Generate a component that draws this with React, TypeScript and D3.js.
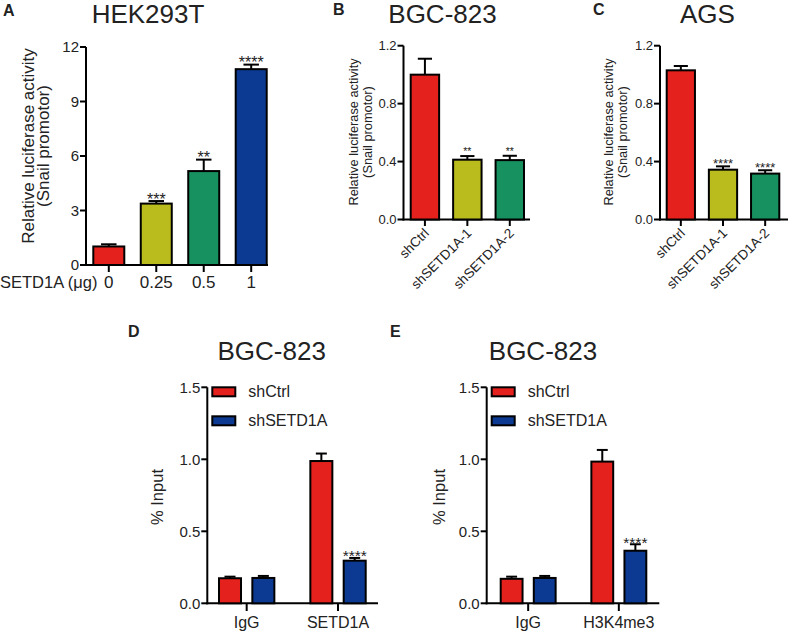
import React, { useEffect, useRef } from "react";
import * as d3 from "d3";

// panel A - HEK293T
const doseLabels = ["0", "0.25", "0.5", "1"];
const doseValues = [1.02, 3.38, 5.17, 10.78];
const doseErrors = [0.12, 0.14, 0.63, 0.25];
const doseSig = ["", "***", "**", "****"];
const doseTicks = [0, 3, 6, 9, 12];

// panels B, C - shRNA
const shLabels = ["shCtrl", "shSETD1A-1", "shSETD1A-2"];
const bgcValues = [1.0, 0.413, 0.41];
const bgcErrors = [0.11, 0.025, 0.03];
const bgcSig = ["", "**", "**"];
const agsValues = [1.03, 0.344, 0.317];
const agsErrors = [0.03, 0.023, 0.023];
const agsSig = ["", "****", "****"];
const shTicks = [0, 0.4, 0.8, 1.2];

// panels D, E - ChIP
const series = ["shCtrl", "shSETD1A"];
const chipTicks = [0, 0.5, 1.0, 1.5];
const dGroups = ["IgG", "SETD1A"];
const dCtrl = [0.174, 0.988];
const dKd = [0.176, 0.296];
const dCtrlErr = [0.011, 0.052];
const dKdErr = [0.014, 0.019];
const dSig = ["", "****"];
const eGroups = ["IgG", "H3K4me3"];
const eCtrl = [0.17, 0.984];
const eKd = [0.176, 0.365];
const eCtrlErr = [0.015, 0.081];
const eKdErr = [0.014, 0.045];
const eSig = ["", "****"];

const FONT = "'Liberation Sans', Arial, Helvetica, sans-serif";
const RED = "#e5211d";
const OLIVE = "#babc1e";
const GREEN = "#17915f";
const BLUE = "#0c3a92";
const shColors = [RED, OLIVE, GREEN];
const doseColors = [RED, OLIVE, GREEN, BLUE];
const seriesColors = [RED, BLUE];

function axes(g, y, ticks, fmt, x0, x1, tickFont) {
  const [y0, yTop] = y.range();
  g.append("line").attr("x1", x0).attr("x2", x0).attr("y1", yTop).attr("y2", y0 + 1)
    .attr("stroke", "#000").attr("stroke-width", 2);
  g.append("line").attr("x1", x0 - 1).attr("x2", x1).attr("y1", y0).attr("y2", y0)
    .attr("stroke", "#000").attr("stroke-width", 2);
  ticks.forEach(t => {
    g.append("line").attr("x1", x0 - 6).attr("x2", x0).attr("y1", y(t)).attr("y2", y(t))
      .attr("stroke", "#000").attr("stroke-width", 2);
    g.append("text").attr("x", x0 - 7).attr("y", y(t)).attr("dy", "0.36em")
      .attr("text-anchor", "end").attr("font-size", tickFont).attr("fill", "#222")
      .text(fmt(t));
  });
}

// sig = [text, font size, baseline offset from error cap]
function bar(g, x, w, y, v, e, color, sig) {
  const y0 = y.range()[0];
  g.append("line").attr("x1", x + w / 2).attr("x2", x + w / 2).attr("y1", y(v)).attr("y2", y(v + e))
    .attr("stroke", "#000").attr("stroke-width", 2);
  g.append("line").attr("x1", x + w / 4).attr("x2", x + (3 * w) / 4).attr("y1", y(v + e)).attr("y2", y(v + e))
    .attr("stroke", "#000").attr("stroke-width", 2);
  g.append("rect").attr("x", x).attr("y", y(v)).attr("width", w).attr("height", y0 - y(v))
    .attr("fill", color).attr("stroke", "#000").attr("stroke-width", 2);
  if (sig && sig[0]) {
    g.append("text").attr("x", x + w / 2).attr("y", y(v + e) + sig[2])
      .attr("text-anchor", "middle").attr("font-size", sig[1]).attr("fill", "#222").text(sig[0]);
  }
}

function yTitle(g, lines, cx, cy, size, gap) {
  lines.forEach((l, i) => {
    g.append("text").attr("transform", `translate(${cx + i * gap},${cy}) rotate(-90)`)
      .attr("text-anchor", "middle").attr("font-size", size).attr("fill", "#222").text(l);
  });
}

function label(g, t, x, y, size, bold = false, anchor = "start") {
  g.append("text").attr("x", x).attr("y", y).attr("font-size", size)
    .attr("font-weight", bold ? "bold" : "normal").attr("text-anchor", anchor)
    .attr("fill", "#222").text(t);
}

function shPanel(g, letter, title, lx, tx, axisX, r0, r1, axisEnd, values, errors, sig, titleX, sigFont, sigDy) {
  const y = d3.scaleLinear().domain([0, 1.2]).range([219.5, 45.7]);
  const x = d3.scaleBand().domain(shLabels).range([r0, r1]).paddingInner(0.33);
  label(g, letter, lx, 15, 16, true);
  label(g, title, tx, 23, 26, false, "middle");
  yTitle(g, ["Relative luciferase activity", "(Snail promotor)"], titleX, 132, 12.8, 14);
  axes(g, y, shTicks, d3.format(".1f"), axisX, axisEnd, 13);
  shLabels.forEach((c, i) => {
    const cx = x(c) + x.bandwidth() / 2;
    g.append("line").attr("x1", cx).attr("x2", cx).attr("y1", 219.5).attr("y2", 226)
      .attr("stroke", "#000").attr("stroke-width", 2);
    g.append("text").attr("transform", `translate(${cx + 5},${234}) rotate(-45)`)
      .attr("text-anchor", "end").attr("font-size", 13.5).attr("fill", "#222").text(c);
    bar(g, x(c), x.bandwidth(), y, values[i], errors[i], shColors[i], [sig[i], sigFont, sigDy]);
  });
}

function chipPanel(g, letter, lx, tx, axisX, r0, r1, axisEnd, groups, ctrl, kd, ctrlErr, kdErr, sig, ytx) {
  const y = d3.scaleLinear().domain([0, 1.5]).range([603.3, 387.3]);
  const x0 = d3.scaleBand().domain(groups).range([r0, r1]).paddingInner(0.394);
  const x1 = d3.scaleBand().domain(series).range([0, x0.bandwidth()]).paddingInner(0.34);
  label(g, letter, lx, 337, 16, true);
  label(g, "BGC-823", tx, 360, 26, false, "middle");
  yTitle(g, ["% Input"], ytx, 497, 16.5, 0);
  axes(g, y, chipTicks, d3.format(".1f"), axisX, axisEnd, 15);
  groups.forEach((grp, i) => {
    const cx = x0(grp) + x0.bandwidth() / 2;
    g.append("line").attr("x1", cx).attr("x2", cx).attr("y1", 603.3).attr("y2", 611)
      .attr("stroke", "#000").attr("stroke-width", 2);
    label(g, grp, cx, 628, 16, false, "middle");
    bar(g, x0(grp) + x1(series[0]), x1.bandwidth(), y, ctrl[i], ctrlErr[i], seriesColors[0], null);
    bar(g, x0(grp) + x1(series[1]), x1.bandwidth(), y, kd[i], kdErr[i], seriesColors[1], [sig[i], 15.5, 3.4]);
  });
  series.forEach((s, i) => {
    const ly = 387.3 + i * 29;
    g.append("rect").attr("x", axisX + 5).attr("y", ly).attr("width", 23).attr("height", 9)
      .attr("fill", seriesColors[i]).attr("stroke", "#000").attr("stroke-width", 2);
    label(g, s, axisX + 41, ly + 10, 16);
  });
}

const App = () => {
  const ref = useRef(null);
  useEffect(() => {
    const svg = d3.select(ref.current);
    svg.selectAll("*").remove();
    const g = svg.append("g").attr("font-family", FONT);

    // A
    const yA = d3.scaleLinear().domain([0, 12]).range([265, 47]);
    const xA = d3.scaleBand().domain(doseLabels).range([93.3, 266.7]).paddingInner(0.347);
    label(g, "A", 3, 16, 16, true);
    label(g, "HEK293T", 148, 23, 26, false, "middle");
    yTitle(g, ["Relative luciferase activity", "(Snail promotor)"], 34, 146, 17, 15);
    axes(g, yA, doseTicks, d3.format("d"), 86, 268, 15);
    label(g, "SETD1A (\u03bcg)", 0, 288, 16.5);
    doseLabels.forEach((c, i) => {
      const cx = xA(c) + xA.bandwidth() / 2;
      g.append("line").attr("x1", cx).attr("x2", cx).attr("y1", 265).attr("y2", 272)
        .attr("stroke", "#000").attr("stroke-width", 2);
      label(g, c, cx, 288, 17, false, "middle");
      bar(g, xA(c), xA.bandwidth(), yA, doseValues[i], doseErrors[i], doseColors[i], [doseSig[i], 16, 3.5]);
    });

    // B, C
    shPanel(g, "B", "BGC-823", 333, 442.5, 403.5, 410.7, 524, 530, bgcValues, bgcErrors, bgcSig, 358, 10.5, -1);
    shPanel(g, "C", "AGS", 593, 707.5, 660, 666.7, 779.3, 788, agsValues, agsErrors, agsSig, 613, 13, 2);

    // D, E
    chipPanel(g, "D", 128, 271.7, 207.3, 219, 365.7, 378, dGroups, dCtrl, dKd, dCtrlErr, dKdErr, dSig, 163);
    chipPanel(g, "E", 390, 543, 486.7, 500.7, 646.3, 659.3, eGroups, eCtrl, eKd, eCtrlErr, eKdErr, eSig, 445);
  }, []);

  return (
    <svg
      ref={ref}
      width={790}
      height={634}
      style={{ position: "absolute", left: 0, top: 0, background: "#fff" }}
    ></svg>
  );
};

export default App;
